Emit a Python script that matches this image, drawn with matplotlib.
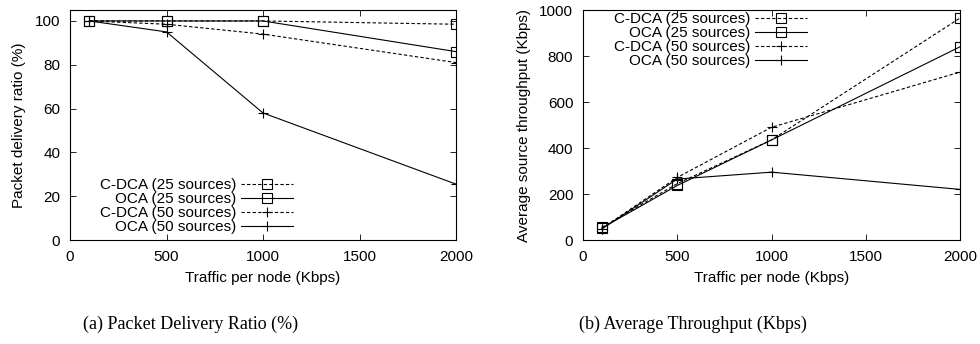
import numpy as np
import matplotlib
matplotlib.use('Agg')
import matplotlib.pyplot as plt

plt.rcParams['font.family'] = ['Liberation Sans', 'DejaVu Sans']

traffic = [100, 500, 1000, 2000]
labels = ['C-DCA (25 sources)', 'OCA (25 sources)', 'C-DCA (50 sources)', 'OCA (50 sources)']

# packet delivery ratio (%)
pdr_cdca25 = [100, 100, 100, 98.5]
pdr_oca25 = [100, 100, 100, 86]
pdr_cdca50 = [100, 98.5, 94, 81]
pdr_oca50 = [100, 95, 58, 25.5]

# average source throughput (Kbps)
thr_cdca25 = [55, 245, 435, 965]
thr_oca25 = [52, 237, 435, 840]
thr_cdca50 = [50, 272, 490, 730]
thr_oca50 = [48, 265, 295, 220]

dash = (0, (3, 2))
styles = [
    dict(linestyle=dash, marker='s', ms=6.5, mfc='none'),
    dict(linestyle='-', marker='s', ms=6.5, mfc='none'),
    dict(linestyle=dash, marker='+', ms=7),
    dict(linestyle='-', marker='+', ms=7),
]
fs = 11

fig = plt.figure(figsize=(9.8, 3.44), dpi=100)
ax1 = fig.add_axes([70/980, 1-240/344, 386/980, 230/344])
ax2 = fig.add_axes([583/980, 1-240/344, 377/980, 230/344])

def setup(ax):
    ax.set_xlim(0, 2000)
    ax.set_xticks([0, 500, 1000, 1500, 2000])
    ax.tick_params(direction='in', top=True, right=True, length=4, width=0.6, labelsize=fs, pad=7)
    for s in ax.spines.values():
        s.set_linewidth(0.8)
    ax.set_xlabel('Traffic per node (Kbps)', fontsize=fs, labelpad=5)

for ax, series in [(ax1, [pdr_cdca25, pdr_oca25, pdr_cdca50, pdr_oca50]),
                   (ax2, [thr_cdca25, thr_oca25, thr_cdca50, thr_oca50])]:
    for vals, lab, st in zip(series, labels, styles):
        ax.plot(traffic, vals, color='black', lw=0.8, mew=0.8, label=lab, **st)
    setup(ax)

ax1.set_ylim(0, 105)
ax1.set_yticks([0, 20, 40, 60, 80, 100])
ax1.set_ylabel('Packet delivery ratio (%)', fontsize=fs, labelpad=6)
ax1.legend(loc='lower right', bbox_to_anchor=(0.578, 0.025), frameon=False, markerfirst=False,
           fontsize=fs, handlelength=3.4, handletextpad=0.3, labelspacing=0.0,
           borderpad=0, borderaxespad=0)

ax2.set_ylim(0, 1000)
ax2.set_yticks([0, 200, 400, 600, 800, 1000])
ax2.set_ylabel('Average source throughput (Kbps)', fontsize=fs, labelpad=6)
ax2.legend(loc='upper right', bbox_to_anchor=(0.594, 0.99), frameon=False, markerfirst=False,
           fontsize=fs, handlelength=3.4, handletextpad=0.3, labelspacing=0.0,
           borderpad=0, borderaxespad=0)

fig.text(191/980, 1-324/344, '(a) Packet Delivery Ratio (%)', family='Liberation Serif',
         fontsize=13, ha='center', va='center')
fig.text(693/980, 1-324/344, '(b) Average Throughput (Kbps)', family='Liberation Serif',
         fontsize=13, ha='center', va='center')

plt.savefig('out.png', dpi=100)
